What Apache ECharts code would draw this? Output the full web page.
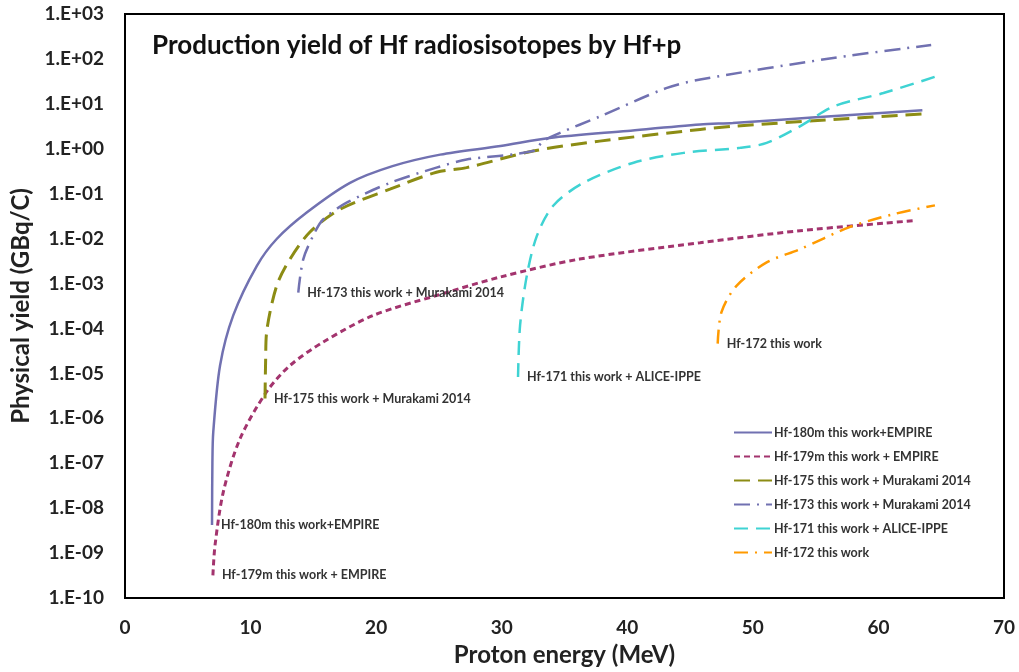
<!DOCTYPE html>
<html>
<head>
<meta charset="utf-8">
<script src="https://cdn.jsdelivr.net/npm/echarts@6/dist/echarts.min.js"></script>
<style>
  html, body { margin: 0; padding: 0; background: #fff; }
  #chart { width: 1019px; height: 672px; }
</style>
</head>
<body>
<div id="chart"></div>
<script>
// proton energy (MeV) / yield (GBq/C)
const e180m = [6.93, 6.96, 7.03, 7.57, 8.62, 10.49, 12.08, 14.47, 17.92, 21.3, 25.1, 29.9, 33.8, 40, 45.8, 48.4, 55, 63.5]
const y180m = [4.2e-9, 1e-7, 5e-7, 1.5e-5, 1.95e-4, 2.45e-3, 9.8e-3, 3.8e-2, 0.174, 0.41, 0.74, 1.15, 1.74, 2.5, 3.47, 3.76, 5.0, 7.2]

const e179m = [7.0, 7.17, 7.83, 9.16, 11.28, 13.14, 15.79, 19.77, 24.8, 29.9, 36.2, 45.8, 53.75, 62.8]
const y179m = [3.2e-10, 1.5e-9, 2.3e-8, 3.5e-7, 3.9e-6, 1.5e-5, 5.0e-5, 1.95e-4, 5.4e-4, 1.4e-3, 3.5e-3, 8.1e-3, 1.5e-2, 2.5e-2]

const e175 = [11.15, 11.2, 11.28, 12.08, 13.14, 14.73, 17.12, 21.1, 24.8, 27.2, 32.5, 37.8, 45.8, 48.4, 56.4, 63.6]
const y175 = [2.75e-6, 2e-5, 8.3e-5, 8.9e-4, 3.5e-3, 1.4e-2, 4.5e-2, 0.126, 0.30, 0.38, 0.89, 1.48, 2.7, 3.16, 4.5, 6.0]

const e173 = [13.8, 14.2, 15.13, 15.79, 17.65, 21.1, 24.8, 27.2, 32.5, 33.3, 34.6, 37.8, 43.1, 45.8, 56.4, 64.2]
const y173 = [6.3e-4, 3.5e-3, 1.4e-2, 2.7e-2, 6.3e-2, 0.174, 0.38, 0.575, 0.89, 1.48, 2.24, 5.2, 22.4, 34.7, 105, 204]

const e171 = [31.3, 31.46, 32.0, 32.8, 34.1, 36.5, 40.5, 44.5, 49.0, 51.1, 53.75, 56.4, 60.4, 64.5]
const y171 = [8.3e-6, 1.15e-4, 1.5e-3, 1.15e-2, 5.4e-2, 0.174, 0.49, 0.81, 1.05, 1.35, 3.16, 8.7, 17.4, 40]

const e172 = [47.2, 47.5, 48.7, 51.1, 53.75, 57.7, 61.2, 64.5]
const y172 = [4.6e-5, 2.3e-4, 8.9e-4, 2.95e-3, 5.8e-3, 1.8e-2, 3.5e-2, 5.5e-2]

const names = [
  "Hf-180m this work+EMPIRE",
  "Hf-179m this work + EMPIRE",
  "Hf-175 this work + Murakami 2014",
  "Hf-173 this work + Murakami 2014",
  "Hf-171 this work + ALICE-IPPE",
  "Hf-172 this work"
]

const font = "Lato"

function pts(xs, ys) {
  return xs.map((x, i) => {
    if (i === 0) {
      // annotation next to the curve start
      return { value: [x, ys[i]], label: { show: true } }
    }
    return [x, ys[i]]
  })
}

function mk(name, xs, ys, color, type, width) {
  return {
    name: name,
    type: "line",
    smooth: 0.3,
    symbol: "circle",
    symbolSize: 0,
    showSymbol: true,
    itemStyle: { color: color },
    lineStyle: { color: color, type: type, width: width },
    label: {
      show: false,
      position: "right",
      distance: 9,
      formatter: "{a}",
      fontFamily: font,
      fontSize: 12.5,
      fontWeight: "bold",
      color: "#333"
    },
    emphasis: { disabled: true },
    data: pts(xs, ys)
  }
}

function fmt(v) {
  let e = Math.round(Math.log10(v))
  let s = Math.abs(e) < 10 ? "0" + Math.abs(e) : "" + Math.abs(e)
  return "1.E" + (e < 0 ? "-" : "+") + s
}

let option = {
  animation: false,
  backgroundColor: "#fff",
  title: {
    text: "Production yield of Hf radiosisotopes by Hf+p",
    left: 147,
    top: 28,
    textStyle: { fontFamily: font, fontSize: 26, fontWeight: "bold", color: "#111" }
  },
  grid: {
    left: 125,
    top: 14,
    right: 15,
    bottom: 62,
    show: true,
    borderColor: "#000",
    borderWidth: 2
  },
  legend: {
    orient: "vertical",
    left: 733,
    top: 426,
    padding: 0,
    itemWidth: 38,
    itemHeight: 14,
    itemGap: 11,
    itemStyle: { color: "rgba(0,0,0,0)", borderWidth: 0 },
    textStyle: { fontFamily: font, fontSize: 12.5, fontWeight: "bold", color: "#333", padding: [0, 0, 0, -3] },
    data: names
  },
  xAxis: {
    type: "value",
    min: 0,
    max: 70,
    interval: 10,
    name: "Proton energy (MeV)",
    nameLocation: "middle",
    nameGap: 45,
    nameTextStyle: { fontFamily: font, fontSize: 24, fontWeight: "bold", color: "#222" },
    axisLine: { show: false },
    axisTick: { show: false },
    splitLine: { show: false },
    axisLabel: { margin: 20, fontFamily: font, fontSize: 19, fontWeight: "bold", color: "#222" }
  },
  yAxis: {
    type: "log",
    logBase: 10,
    min: 1e-10,
    max: 1e3,
    interval: 1,
    name: "Physical yield (GBq/C)",
    nameLocation: "middle",
    nameGap: 84,
    nameTextStyle: { fontFamily: font, fontSize: 24, fontWeight: "bold", color: "#222" },
    axisLine: { show: false },
    axisTick: { show: false },
    splitLine: { show: false },
    axisLabel: { margin: 21, fontFamily: font, fontSize: 19, fontWeight: "bold", color: "#222", formatter: fmt }
  },
  series: [
    mk(names[0], e180m, y180m, "#7171b1", "solid", 2.5),
    mk(names[1], e179m, y179m, "#a3346e", [6, 4], 3),
    mk(names[2], e175, y175, "#8c8c14", [16, 8], 3),
    mk(names[3], e173, y173, "#7171b1", [16, 7, 2, 7], 2.5),
    mk(names[4], e171, y171, "#3fd3d3", [14, 8], 2.5),
    mk(names[5], e172, y172, "#ff9a00", [14, 7, 2, 7], 2.5)
  ]
}

let chartEl = echarts.init(document.getElementById("chart"))
chartEl.setOption(option)
window.addEventListener("resize", () => chartEl.resize())
</script>
</body>
</html>
